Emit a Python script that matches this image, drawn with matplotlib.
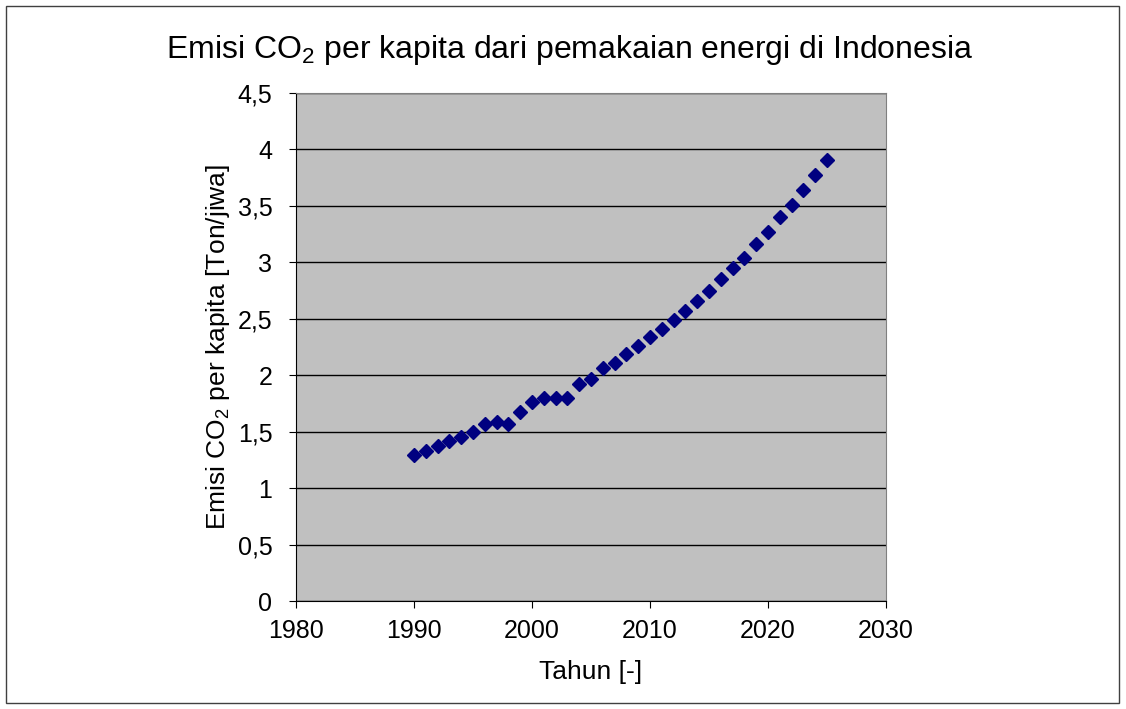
import matplotlib.pyplot as plt
from matplotlib.patches import Rectangle

plt.rcParams['font.family'] = ['Liberation Sans', 'DejaVu Sans']

# emisi per kapita (ton/jiwa) per tahun
tahun = list(range(1990, 2026))
emisi = [1.29, 1.33, 1.37, 1.42, 1.45, 1.50, 1.57, 1.59, 1.57, 1.67,
         1.76, 1.80, 1.80, 1.80, 1.92, 1.97, 2.06, 2.11, 2.19, 2.26,
         2.34, 2.41, 2.49, 2.57, 2.66, 2.75, 2.85, 2.95, 3.04, 3.16,
         3.27, 3.40, 3.51, 3.64, 3.77, 3.91]

y_ticks = [0, 0.5, 1, 1.5, 2, 2.5, 3, 3.5, 4, 4.5]
y_labels = ['0', '0,5', '1', '1,5', '2', '2,5', '3', '3,5', '4', '4,5']
x_ticks = [1980, 1990, 2000, 2010, 2020, 2030]

fig = plt.figure(figsize=(11.26, 7.09), dpi=100)
fig.patches.append(Rectangle((0.005, 0.008), 0.989, 0.983, transform=fig.transFigure,
                             fill=False, edgecolor='#404040', linewidth=1))

ax = fig.add_axes([0.2629, 0.1523, 0.524, 0.7165])
ax.set_facecolor('#c0c0c0')
ax.plot(tahun, emisi, linestyle='none', marker='D', markersize=7.2,
        color='#000080', markeredgecolor='#000080')

ax.set_xlim(1980, 2030)
ax.set_ylim(0, 4.5)
ax.set_xticks(x_ticks)
ax.set_yticks(y_ticks)
ax.set_yticklabels(y_labels)
ax.tick_params(direction='out', length=5, labelsize=18, color='black')
ax.tick_params(axis='x', pad=8)
ax.tick_params(axis='y', pad=12)
ax.yaxis.grid(True, color='black', linewidth=1)
ax.set_axisbelow(True)

for side in ['top', 'right']:
    ax.spines[side].set_color('#808080')
for side in ['left', 'bottom']:
    ax.spines[side].set_color('black')

ax.set_xlabel('Tahun [-]', fontsize=19, labelpad=12)
ax.set_ylabel(r'Emisi CO$\mathregular{_2}$ per kapita [Ton/jiwa]', fontsize=19, labelpad=4)
# title sits centred on the whole figure, not on the plot area
ax.set_title(r'Emisi CO$\mathregular{_2}$ per kapita dari pemakaian energi di Indonesia',
             fontsize=23, pad=25, x=0.463)

fig.savefig('out.png', dpi=100)
